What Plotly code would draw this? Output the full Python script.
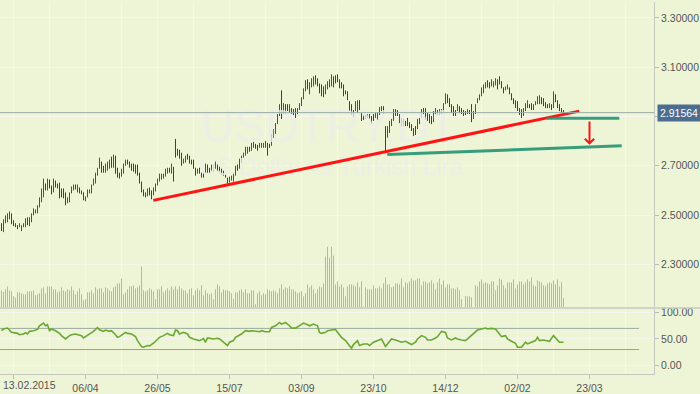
import plotly.graph_objects as go

# ---------------- data ----------------
# bar index 0 = 2015-02-05, one bar per weekday
tick_idx = [6, 42, 78, 114, 150, 186, 222, 258, 294]
tick_labels = ["13.02.2015", "06/04", "26/05", "15/07", "03/09", "23/10", "14/12", "02/02", "23/03"]

highs = [
    2.467, 2.483, 2.499, 2.507, 2.515, 2.507, 2.479, 2.467, 2.459, 2.467,
    2.459, 2.467, 2.487, 2.491, 2.491, 2.507, 2.527, 2.523, 2.540, 2.572,
    2.608, 2.648, 2.628, 2.648, 2.644, 2.620, 2.648, 2.640, 2.628, 2.632,
    2.608, 2.608, 2.592, 2.572, 2.592, 2.616, 2.624, 2.624, 2.624, 2.612,
    2.600, 2.592, 2.576, 2.604, 2.604, 2.624, 2.648, 2.672, 2.692, 2.733,
    2.717, 2.700, 2.709, 2.717, 2.725, 2.737, 2.745, 2.741, 2.692, 2.672,
    2.688, 2.709, 2.725, 2.725, 2.717, 2.709, 2.709, 2.705, 2.705, 2.672,
    2.636, 2.604, 2.592, 2.608, 2.612, 2.600, 2.612, 2.628, 2.648, 2.668,
    2.668, 2.668, 2.688, 2.692, 2.692, 2.709, 2.696, 2.809, 2.769, 2.765,
    2.753, 2.729, 2.741, 2.749, 2.741, 2.725, 2.725, 2.692, 2.688, 2.692,
    2.672, 2.672, 2.709, 2.705, 2.692, 2.705, 2.705, 2.717, 2.705, 2.696,
    2.688, 2.680, 2.668, 2.652, 2.656, 2.660, 2.668, 2.700, 2.705, 2.729,
    2.741, 2.753, 2.777, 2.777, 2.777, 2.793, 2.797, 2.789, 2.785, 2.793,
    2.793, 2.793, 2.801, 2.793, 2.789, 2.829, 2.849, 2.873, 2.910, 2.950,
    3.006, 2.954, 2.950, 2.950, 2.950, 2.934, 2.930, 2.934, 2.934, 2.954,
    2.978, 3.014, 3.047, 3.051, 3.039, 3.055, 3.063, 3.067, 3.055, 3.034,
    3.030, 3.022, 3.030, 3.043, 3.051, 3.071, 3.063, 3.067, 3.071, 3.051,
    3.039, 3.030, 3.006, 3.002, 2.962, 2.950, 2.926, 2.962, 2.966, 2.966,
    2.914, 2.906, 2.906, 2.910, 2.910, 2.902, 2.910, 2.914, 2.914, 2.938,
    2.942, 2.942, 2.861, 2.861, 2.882, 2.890, 2.930, 2.930, 2.926, 2.910,
    2.894, 2.890, 2.882, 2.894, 2.877, 2.869, 2.853, 2.861, 2.890, 2.894,
    2.930, 2.934, 2.934, 2.914, 2.910, 2.902, 2.922, 2.934, 2.926, 2.930,
    2.930, 2.954, 2.994, 2.990, 2.974, 2.950, 2.942, 2.926, 2.950, 2.942,
    2.934, 2.926, 2.922, 2.930, 2.926, 2.950, 2.922, 2.950, 2.974, 2.990,
    3.018, 3.030, 3.039, 3.047, 3.039, 3.051, 3.043, 3.055, 3.051, 3.063,
    3.043, 3.018, 3.022, 3.030, 3.018, 2.994, 2.974, 2.966, 2.962, 2.934,
    2.930, 2.934, 2.954, 2.966, 2.950, 2.954, 2.950, 2.962, 2.982, 2.986,
    2.978, 2.974, 2.958, 2.950, 2.954, 2.950, 3.002, 2.990, 2.966, 2.950,
    2.934, 2.926,
]
lows = [
    2.435, 2.431, 2.467, 2.471, 2.483, 2.463, 2.455, 2.451, 2.443, 2.451,
    2.435, 2.451, 2.451, 2.459, 2.455, 2.471, 2.499, 2.507, 2.507, 2.531,
    2.552, 2.572, 2.600, 2.600, 2.608, 2.584, 2.592, 2.612, 2.608, 2.568,
    2.572, 2.568, 2.540, 2.548, 2.552, 2.588, 2.600, 2.604, 2.592, 2.588,
    2.584, 2.560, 2.556, 2.572, 2.588, 2.588, 2.620, 2.628, 2.660, 2.688,
    2.672, 2.672, 2.672, 2.680, 2.688, 2.692, 2.692, 2.668, 2.652, 2.648,
    2.656, 2.668, 2.700, 2.705, 2.692, 2.680, 2.676, 2.668, 2.660, 2.628,
    2.592, 2.576, 2.572, 2.576, 2.580, 2.564, 2.580, 2.596, 2.620, 2.636,
    2.644, 2.648, 2.656, 2.668, 2.672, 2.668, 2.636, 2.733, 2.741, 2.729,
    2.700, 2.709, 2.713, 2.725, 2.709, 2.705, 2.688, 2.660, 2.668, 2.668,
    2.652, 2.652, 2.672, 2.672, 2.672, 2.680, 2.676, 2.688, 2.680, 2.672,
    2.664, 2.660, 2.652, 2.628, 2.632, 2.640, 2.636, 2.660, 2.680, 2.688,
    2.713, 2.733, 2.741, 2.749, 2.757, 2.761, 2.773, 2.769, 2.761, 2.773,
    2.773, 2.773, 2.773, 2.741, 2.773, 2.781, 2.813, 2.829, 2.869, 2.902,
    2.890, 2.910, 2.910, 2.922, 2.914, 2.910, 2.906, 2.894, 2.910, 2.926,
    2.942, 2.970, 3.002, 3.010, 2.990, 3.018, 3.022, 3.030, 3.022, 2.994,
    2.982, 2.978, 2.990, 3.010, 3.018, 3.022, 3.018, 3.034, 3.039, 3.014,
    3.014, 2.982, 2.990, 2.966, 2.922, 2.906, 2.898, 2.922, 2.914, 2.926,
    2.882, 2.886, 2.890, 2.894, 2.890, 2.869, 2.882, 2.894, 2.886, 2.906,
    2.922, 2.910, 2.757, 2.813, 2.833, 2.861, 2.882, 2.902, 2.902, 2.873,
    2.861, 2.861, 2.861, 2.861, 2.853, 2.841, 2.821, 2.825, 2.849, 2.869,
    2.894, 2.910, 2.886, 2.882, 2.873, 2.869, 2.877, 2.910, 2.906, 2.906,
    2.910, 2.914, 2.950, 2.954, 2.938, 2.914, 2.902, 2.902, 2.922, 2.914,
    2.910, 2.902, 2.906, 2.910, 2.910, 2.877, 2.890, 2.910, 2.954, 2.966,
    2.982, 2.994, 3.014, 3.018, 3.014, 3.022, 3.018, 3.026, 3.010, 3.030,
    3.014, 2.994, 3.006, 3.010, 2.990, 2.966, 2.950, 2.934, 2.922, 2.906,
    2.894, 2.902, 2.922, 2.934, 2.934, 2.926, 2.926, 2.946, 2.950, 2.950,
    2.950, 2.942, 2.934, 2.934, 2.934, 2.926, 2.934, 2.958, 2.934, 2.922,
    2.914, 2.910,
]
# G = up bar, R = down bar
direction = (
    "RGGGGRRRRG" "GGGRGGGGGG" "GGRGRRGRRR" "RRRGGGGRGR" "RRGGGGGGGG"
    "RRGGGRGRRR" "GGGRRRRRRR" "RRRGRRGGGG" "GGGGRGRRRR" "RGGRRRRRGR"
    "RRGRRGRGRR" "RRRRGGGGRG" "GGGGRGGRRG" "GGGRRGGGGG" "RGRRGRRRGG"
    "GGGRGGGRRR" "RRGGGGRRRR" "RRRRRRRGGR" "RRRGRRRGGG" "RRRGGGGRRR"
    "RRRRRRRRGG" "GRRRRRGGGG" "GGGRRRRRGR" "RRRGRRGGGG" "GGGRRGGGRR"
    "RRGGRRRRRR" "RGGGRRGGGG" "RRRRGRGRRR" "RR"
)
volumes = [
    52, 47, 55, 64, 52, 49, 34, 30, 46, 46,
    43, 40, 40, 49, 49, 49, 52, 37, 40, 43,
    58, 61, 43, 64, 64, 64, 55, 55, 46, 49,
    61, 52, 49, 55, 52, 64, 52, 40, 49, 58,
    40, 22, 25, 46, 46, 52, 43, 61, 55, 58,
    58, 46, 61, 58, 52, 49, 61, 64, 73, 73,
    88, 40, 46, 55, 64, 64, 67, 58, 61, 67,
    124, 52, 49, 52, 58, 55, 49, 25, 55, 55,
    64, 46, 52, 58, 52, 64, 55, 64, 55, 64,
    58, 52, 52, 43, 55, 58, 37, 52, 58, 52,
    67, 37, 52, 43, 40, 43, 25, 55, 70, 64,
    46, 55, 52, 52, 49, 43, 27, 46, 46, 52,
    55, 46, 55, 43, 43, 52, 52, 10, 43, 49,
    37, 43, 40, 55, 52, 49, 52, 49, 43, 58,
    70, 55, 61, 58, 64, 55, 55, 49, 43, 46,
    49, 34, 43, 70, 61, 67, 55, 43, 55, 64,
    61, 73, 154, 184, 151, 184, 157, 70, 79, 64,
    70, 61, 34, 64, 70, 70, 67, 64, 76, 61,
    79, 3, 61, 55, 55, 55, 67, 58, 58, 64,
    58, 73, 91, 70, 70, 61, 64, 73, 73, 70,
    88, 61, 76, 73, 79, 88, 82, 82, 88, 88,
    67, 79, 79, 73, 76, 82, 73, 55, 76, 88,
    70, 82, 61, 70, 70, 58, 58, 55, 61, 52,
    25, 0, 34, 34, 34, 31, 0, 67, 64, 79,
    85, 73, 76, 73, 70, 79, 79, 52, 67, 88,
    85, 67, 58, 76, 76, 76, 85, 58, 70, 79,
    79, 70, 76, 85, 79, 91, 67, 64, 82, 79,
    76, 67, 64, 73, 76, 73, 82, 70, 85, 64,
    76, 28,
]
rsi_idx = [
    0, 1, 3, 4, 5, 8, 9, 11, 12, 13, 14, 16, 18, 19, 21, 22, 23, 24, 25, 27,
    29, 30, 32, 34, 35, 37, 39, 40, 41, 43, 44, 46, 48, 49, 51, 52, 54, 55, 57, 58,
    59, 61, 62, 63, 65, 67, 68, 70, 71, 73, 74, 76, 78, 79, 81, 83, 84, 86, 87, 88,
    89, 91, 93, 94, 96, 98, 99, 101, 102, 103, 104, 106, 108, 109, 111, 113, 114, 116, 117, 119,
    120, 122, 124, 125, 127, 129, 130, 132, 134, 135, 137, 139, 140, 142, 144, 145, 147, 148, 151, 153,
    154, 156, 158, 159, 160, 162, 163, 165, 167, 168, 170, 172, 173, 175, 176, 178, 179, 181, 183, 184,
    186, 188, 190, 192, 193, 195, 197, 198, 200, 202, 203, 205, 207, 208, 210, 212, 213, 215, 217, 218,
    220, 222, 223, 225, 227, 228, 230, 232, 233, 235, 237, 238, 240, 242, 243, 245, 247, 248, 250, 252,
    253, 255, 257, 258, 260, 262, 263, 265, 267, 268, 269, 271, 273, 274, 276, 278, 279, 281,
]
rsi_val = [
    65.6, 68.8, 70.6, 65.6, 62.5, 60.6, 58.1, 59.4, 61.9, 59.4, 64.4, 65.6, 68.1, 75.0, 80.0, 75.0, 76.9, 65.6, 68.8, 65.6,
    60.6, 56.3, 50.0, 56.3, 58.1, 59.4, 57.5, 56.3, 51.9, 56.3, 59.4, 64.4, 71.3, 67.5, 64.4, 66.9, 64.4, 65.6, 58.1, 53.1,
    54.4, 59.4, 62.5, 60.6, 59.4, 54.4, 46.9, 35.6, 34.4, 37.5, 36.9, 41.9, 50.0, 53.1, 56.3, 60.6, 58.1, 56.3, 66.9, 65.6,
    59.4, 62.5, 59.4, 53.1, 50.0, 48.1, 46.9, 50.6, 43.8, 51.9, 51.3, 50.0, 51.3, 50.0, 43.8, 37.5, 43.8, 46.9, 53.1, 56.3,
    59.4, 65.6, 64.4, 65.6, 64.4, 63.8, 65.6, 63.8, 63.8, 71.9, 75.0, 81.3, 78.1, 81.3, 75.0, 70.6, 70.6, 73.1, 80.0, 76.9,
    75.0, 78.1, 75.0, 62.5, 60.6, 62.5, 65.6, 66.9, 68.1, 62.5, 53.1, 46.9, 41.9, 32.5, 39.4, 46.9, 37.5, 40.6, 40.6, 37.5,
    43.8, 46.9, 50.0, 35.6, 40.6, 50.0, 48.1, 46.9, 43.8, 45.6, 43.8, 39.4, 43.8, 50.0, 56.3, 53.1, 48.1, 48.1, 51.9, 54.4,
    64.4, 62.5, 51.9, 48.1, 51.9, 50.0, 48.1, 46.9, 50.0, 56.3, 64.4, 66.9, 68.8, 70.6, 68.8, 70.0, 68.8, 64.4, 54.4, 56.3,
    50.0, 45.6, 41.9, 34.4, 34.4, 43.8, 40.6, 43.8, 46.9, 53.1, 46.9, 48.1, 45.6, 45.6, 56.3, 46.9, 43.8, 43.8,
]
rsi_upper, rsi_lower = 70, 30
last_price = 2.91564

# analyst drawings (bar index, price)
red_trend_x, red_trend_y = [75.9, 288.9], [2.5596, 2.9218]
green_upper_x, green_upper_y = [272.6, 308.9], [2.8924, 2.8924]
green_lower_x, green_lower_y = [192.9, 310.1], [2.7459, 2.7809]
arrow_x, arrow_from, arrow_to = 294, 2.886, 2.785
level_start_x, level_end_x = -0.75, 318.75

# ---------------- styling ----------------
BG = "#eef5d6"
GRID = "#f5f6ee"
AXIS = "#c6c8c0"
TXT = "#555555"
FONT = "Liberation Sans, Arial, sans-serif"
UP = "#2d6b20"
DOWN = "#7a2a1c"

n = len(highs)
idx = list(range(n))
opens = [lows[i] if direction[i] == "G" else highs[i] for i in idx]
closes = [highs[i] if direction[i] == "G" else lows[i] for i in idx]

# volume drawn as thin vertical segments from zero
vol_x, vol_y = [], []
for i, v in zip(idx, volumes):
    if v > 0:
        vol_x += [i, i, None]
        vol_y += [0, v, None]

fig = go.Figure()

# watermark (below everything)
fig.add_trace(go.Scatter(x=[163.25], y=[2.845], mode="text", text=["USDTRY,D1"],
                         textfont=dict(size=46, color="rgba(236,238,232,0.8)", family=FONT),
                         hoverinfo="skip", showlegend=False))
fig.add_trace(go.Scatter(x=[164.75], y=[2.688], mode="text", text=["US Dollar vs Turkish Lira"],
                         textfont=dict(size=24, color="rgba(236,238,232,0.85)", family=FONT),
                         hoverinfo="skip", showlegend=False))

fig.add_trace(go.Ohlc(x=idx, open=opens, high=highs, low=lows, close=closes,
                      increasing=dict(line=dict(color=UP, width=1)),
                      decreasing=dict(line=dict(color=DOWN, width=1)),
                      tickwidth=0, hoverinfo="skip", showlegend=False))

fig.add_trace(go.Scatter(x=red_trend_x, y=red_trend_y, mode="lines",
                         line=dict(color="#ff1414", width=3), hoverinfo="skip", showlegend=False))
for gx, gy in ((green_upper_x, green_upper_y), (green_lower_x, green_lower_y)):
    fig.add_trace(go.Scatter(x=gx, y=gy, mode="lines",
                             line=dict(color="rgba(34,148,112,0.9)", width=3),
                             hoverinfo="skip", showlegend=False))

fig.add_trace(go.Scatter(x=vol_x, y=vol_y, yaxis="y3", mode="lines",
                         line=dict(color="#7cc8e6", width=1),
                         hoverinfo="skip", showlegend=False))

# RSI levels and line
fig.add_trace(go.Scatter(x=[level_start_x, level_end_x], y=[rsi_upper, rsi_upper], yaxis="y2",
                         mode="lines", line=dict(color="#9aaaa2", width=1),
                         hoverinfo="skip", showlegend=False))
fig.add_trace(go.Scatter(x=[level_start_x, level_end_x], y=[rsi_lower, rsi_lower], yaxis="y2",
                         mode="lines", line=dict(color="#f07c6c", width=1),
                         hoverinfo="skip", showlegend=False))
fig.add_trace(go.Scatter(x=rsi_idx, y=rsi_val, yaxis="y2", mode="lines",
                         line=dict(color="#6aa833", width=1.6), hoverinfo="skip", showlegend=False))

shapes = [
    dict(type="line", xref="paper", yref="y", x0=0, x1=1, y0=last_price, y1=last_price,
         line=dict(color="#9aaca6", width=1)),
    dict(type="line", xref="paper", yref="paper", x0=0, x1=1.0703, y0=0.1773, y1=0.1773,
         line=dict(color=AXIS, width=1.5)),
]

annotations = [
    dict(xref="paper", yref="y", x=1, y=last_price, xanchor="left", yanchor="middle", xshift=3,
         text=f"{last_price:.5f}", showarrow=False, bgcolor="#4d6d8f", borderpad=2,
         font=dict(color="white", size=10.5, family=FONT)),
    dict(xref="x", yref="y", x=arrow_x, y=arrow_to, axref="x", ayref="y", ax=arrow_x, ay=arrow_from,
         text="", showarrow=True, arrowhead=4, arrowsize=0.9, arrowwidth=2, arrowcolor="#f01818",
         standoff=0),
    # first date label is pushed inside the chart, like the original
    dict(xref="paper", yref="paper", x=0, y=0, xanchor="left", yanchor="middle", xshift=1, yshift=-11,
         text=tick_labels[0], showarrow=False, font=dict(size=10.5, color=TXT, family=FONT)),
]

fig.update_layout(
    width=700, height=394,
    margin=dict(l=0, r=46, t=0, b=19),
    paper_bgcolor=BG, plot_bgcolor=BG,
    showlegend=False, hovermode=False,
    font=dict(family=FONT, size=10, color=TXT),
    shapes=shapes, annotations=annotations,
    xaxis=dict(domain=[0, 1], anchor="y2", range=[-0.75, 326.25],
               tickmode="array", tickvals=tick_idx, ticktext=[""] + tick_labels[1:],
               ticks="outside", ticklen=4, tickcolor="#bbbbbb",
               showgrid=True, gridcolor=GRID, gridwidth=1,
               minor=dict(tickmode="linear", tick0=6, dtick=18, showgrid=True,
                          gridcolor=GRID, gridwidth=1, ticks=""),
               showline=True, linecolor=AXIS, zeroline=False,
               rangeslider=dict(visible=False),
               tickfont=dict(size=10.5, color=TXT, family=FONT)),
    yaxis=dict(domain=[0.17867, 1], anchor="x", side="right", range=[2.1250, 3.3644],
               tickmode="array", tickvals=[2.3, 2.5, 2.7, 2.9, 3.1, 3.3],
               ticktext=["2.30000", "2.50000", "2.70000", "", "3.10000", "3.30000"],
               ticks="outside", ticklen=4, tickcolor="#bbbbbb",
               showgrid=True, gridcolor=GRID, showline=True, linecolor=AXIS, zeroline=False,
               tickfont=dict(size=10.5, color=TXT, family=FONT)),
    yaxis2=dict(domain=[0, 0.176], anchor="x", side="right", range=[-16.3, 107.6],
                tickmode="array", tickvals=[0, 50, 100], ticktext=["0.00", "50.00", "100.00"],
                ticks="outside", ticklen=4, tickcolor="#bbbbbb",
                showgrid=True, gridcolor=GRID, showline=True, linecolor=AXIS, zeroline=False,
                tickfont=dict(size=10.5, color=TXT, family=FONT)),
    yaxis3=dict(overlaying="y", range=[0, 924], visible=False),
)

fig.write_html(
    "out.html",
    config={"displayModeBar": False, "responsive": False},
    post_script="document.body.style.margin='0';document.body.style.overflow='hidden';",
)
